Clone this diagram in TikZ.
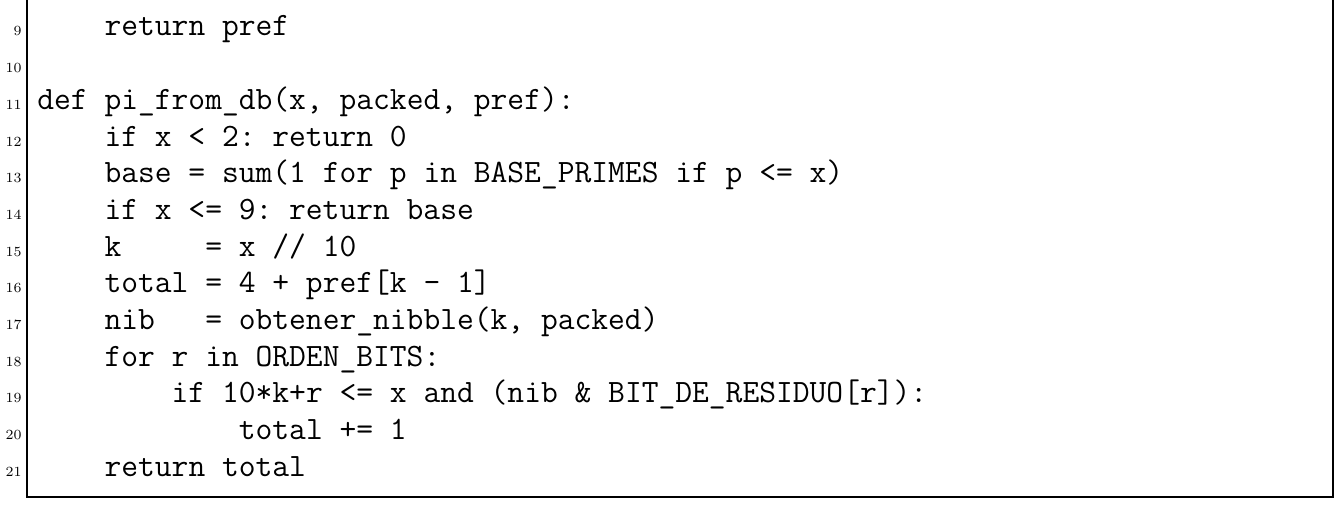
\documentclass[tikz,border=0pt]{standalone}
\usepackage{fontspec}
\usepackage{tikz}
\usetikzlibrary{positioning}

\begin{document}
\begin{tikzpicture}[
    x=0.5pt, y=-0.5pt,
    code/.style={anchor=base west, inner sep=0pt, font=\fontsize{16.3}{16}\ttfamily},
    lineno/.style={anchor=base east, inner sep=0pt, font=\fontsize{7}{7}\selectfont},
    frame/.style={line width=0.6pt}
]
\useasboundingbox (0,0) rectangle (1341,507);
\draw[frame] (27,0) -- (27,497) -- (1333,497) -- (1333,0);
\foreach \n/\txt [count=\i from 0] in {
    9/{~~~~return~pref},
    10/{},
    11/{def~pi\_from\_db(x,~packed,~pref):},
    12/{~~~~if~x~<~2:~return~0},
    13/{~~~~base~=~sum(1~for~p~in~BASE\_PRIMES~if~p~<=~x)},
    14/{~~~~if~x~<=~9:~return~base},
    15/{~~~~k~~~~~=~x~//~10},
    16/{~~~~total~=~4~+~pref[k~-~1]},
    17/{~~~~nib~~~=~obtener\_nibble(k,~packed)},
    18/{~~~~for~r~in~ORDEN\_BITS:},
    19/{~~~~~~~~if~10*k+r~<=~x~and~(nib~\&~BIT\_DE\_RESIDUO[r]):},
    20/{~~~~~~~~~~~~total~+=~1},
    21/{~~~~return~total}}
{
    \node[lineno] (n\n) at (22,36+36.67*\i) {\n};
    \node[code] (l\n) at (37,36+36.67*\i) {\txt\strut};
}
\end{tikzpicture}
\end{document}
